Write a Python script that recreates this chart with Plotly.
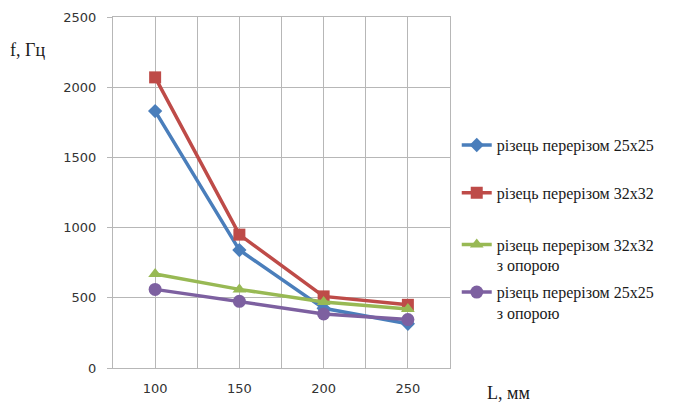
import plotly.graph_objects as go

L_mm = [100, 150, 200, 250]
f_25_plain = [1830, 840, 425, 315]
f_32_plain = [2070, 950, 510, 450]
f_32_support = [670, 560, 470, 420]
f_25_support = [560, 475, 385, 345]

names = [
    "різець перерізом 25x25",
    "різець перерізом 32x32",
    "різець перерізом 32x32<br>з опорою",
    "різець перерізом 25x25<br>з опорою",
]
series = [f_25_plain, f_32_plain, f_32_support, f_25_support]
colors = ["#4a7ebb", "#be4b48", "#98b954", "#7d60a0"]
symbols = ["diamond", "square", "triangle-up", "circle"]
msizes = [11, 12, 12, 13]
legend_ids = ["legend", "legend2", "legend3", "legend4"]
legend_y = [0.635, 0.499, 0.322, 0.186]

SERIF = "Liberation Serif, Times New Roman, DejaVu Serif, serif"

fig = go.Figure()
for name, ys, c, s, ms, lid in zip(names, series, colors, symbols, msizes, legend_ids):
    fig.add_trace(go.Scatter(
        x=L_mm, y=ys, name=name, mode="lines+markers",
        line=dict(color=c, width=3.5),
        marker=dict(symbol=s, size=ms, color=c),
        legend=lid,
    ))

grid = "#b7b7b7"
legend_font = dict(family=SERIF, size=16, color="#1a1a1a")

fig.update_layout(
    width=677, height=403,
    margin=dict(l=113, r=227, t=17, b=35, autoexpand=False),
    paper_bgcolor="white", plot_bgcolor="white",
    font=dict(family="DejaVu Sans", size=13, color="#333333"),
    showlegend=True,
)
for lid, ly in zip(legend_ids, legend_y):
    fig.update_layout({
        lid: dict(
            x=1.02, y=ly, xanchor="left", yanchor="middle", valign="top",
            font=legend_font, bgcolor="rgba(0,0,0,0)", borderwidth=0,
        )
    })

fig.update_xaxes(
    range=[75, 275], tickvals=L_mm, ticktext=[str(v) for v in L_mm],
    showgrid=True, gridcolor=grid, gridwidth=1,
    minor=dict(tickvals=[75, 125, 175, 225, 275], showgrid=True, gridcolor=grid, gridwidth=1),
    showline=True, linecolor=grid, linewidth=1, mirror=True,
    zeroline=False, ticks="", ticklen=0, ticklabelstandoff=8, automargin=False,
    tickfont=dict(family="DejaVu Sans", size=13, color="#333333"),
)
fig.update_yaxes(
    range=[0, 2500], dtick=500,
    showgrid=True, gridcolor=grid, gridwidth=1,
    showline=True, linecolor=grid, linewidth=1, mirror=True,
    zeroline=False, ticks="outside", ticklen=5, tickcolor=grid, ticklabelstandoff=8,
    automargin=False,
    tickfont=dict(family="DejaVu Sans", size=13, color="#333333"),
)

fig.add_annotation(
    text="f, Гц", xref="paper", yref="paper", x=-0.312, y=0.905,
    xanchor="left", yanchor="middle", showarrow=False,
    font=dict(family=SERIF, size=18, color="#1a1a1a"),
)
fig.add_annotation(
    text="L, мм", xref="paper", yref="paper", x=1.105, y=-0.071,
    xanchor="left", yanchor="middle", showarrow=False,
    font=dict(family=SERIF, size=18, color="#1a1a1a"),
)

fig.write_html("out.html")
